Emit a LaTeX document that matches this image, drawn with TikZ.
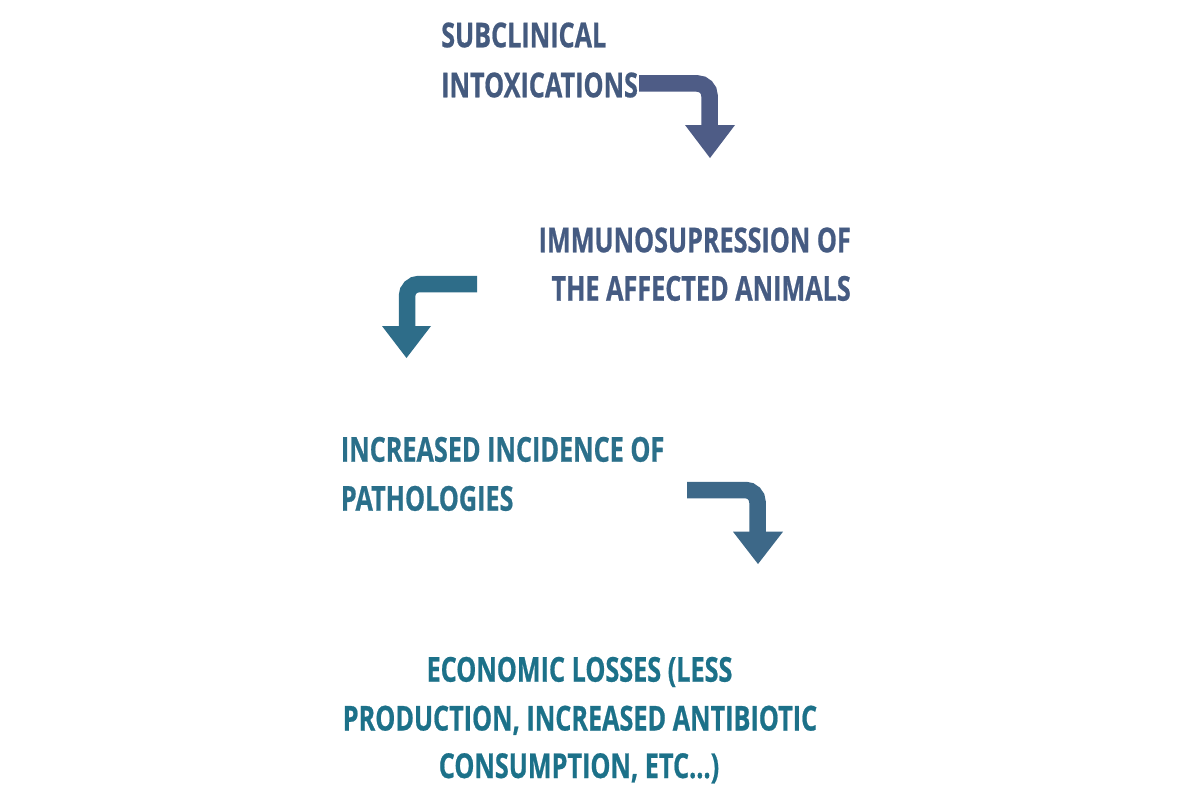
\documentclass[tikz,border=0pt]{standalone}
\usepackage{fontspec}
\newfontfamily\condfont{Open Sans}[FakeStretch=0.735,FakeBold=0.6]
\definecolor{tA}{HTML}{445A7E}
\definecolor{aA}{HTML}{4E5C86}
\definecolor{tB}{HTML}{455B82}
\definecolor{aB}{HTML}{2E6D89}
\definecolor{tC}{HTML}{2A6F8A}
\definecolor{aC}{HTML}{3D6888}
\definecolor{tD}{HTML}{1C7189}
\begin{document}
\begin{tikzpicture}[x=1pt,y=-1pt,
  lbl/.style={inner sep=0pt, font=\condfont\bfseries\fontsize{34.3}{50}\selectfont},
  shaft/.style={line width=16.5pt, rounded corners=12pt}]
\useasboundingbox[fill=white] (0,0) rectangle (1200,800);
% texts
\node[lbl, text=tA, anchor=base west] (t1a) at (441,47.3) {SUBCLINICAL};
\node[lbl, text=tA, anchor=base west] (t1b) at (441,97.3) {INTOXICATIONS};
\node[lbl, text=tB, anchor=base east] (t2a) at (851,252.3) {IMMUNOSUPRESSION OF};
\node[lbl, text=tB, anchor=base east] (t2b) at (851,300.7) {THE AFFECTED ANIMALS};
\node[lbl, text=tC, anchor=base west] (t3a) at (340.7,461.7) {INCREASED INCIDENCE OF};
\node[lbl, text=tC, anchor=base west] (t3b) at (340.7,510.7) {PATHOLOGIES};
\node[lbl, text=tD, anchor=base] (t4a) at (579.5,681.7) {ECONOMIC LOSSES (LESS};
\node[lbl, text=tD, anchor=base] (t4b) at (580,730.5) {PRODUCTION, INCREASED ANTIBIOTIC};
\node[lbl, text=tD, anchor=base] (t4c) at (579,778) {CONSUMPTION, ETC...)};
% arrow 1
\coordinate (a1s) at (639,83.5);
\coordinate (a1k) at (709.5,83.5);
\coordinate (a1e) at (709.5,126);
\draw[shaft, aA] (a1s) -- (a1k) -- (a1e);
\fill[aA] (685,125) -- (735,125) -- (710,158) -- cycle;
% arrow 2
\coordinate (a2s) at (477,284);
\coordinate (a2k) at (407,284);
\coordinate (a2e) at (407,327);
\draw[shaft, aB] (a2s) -- (a2k) -- (a2e);
\fill[aB] (382,326) -- (431,326) -- (406.5,358) -- cycle;
% arrow 3
\coordinate (a3s) at (687,490);
\coordinate (a3k) at (757.5,490);
\coordinate (a3e) at (757.5,532.5);
\draw[shaft, aC] (a3s) -- (a3k) -- (a3e);
\fill[aC] (733,531.7) -- (783,531.7) -- (758,564) -- cycle;
\end{tikzpicture}
\end{document}
